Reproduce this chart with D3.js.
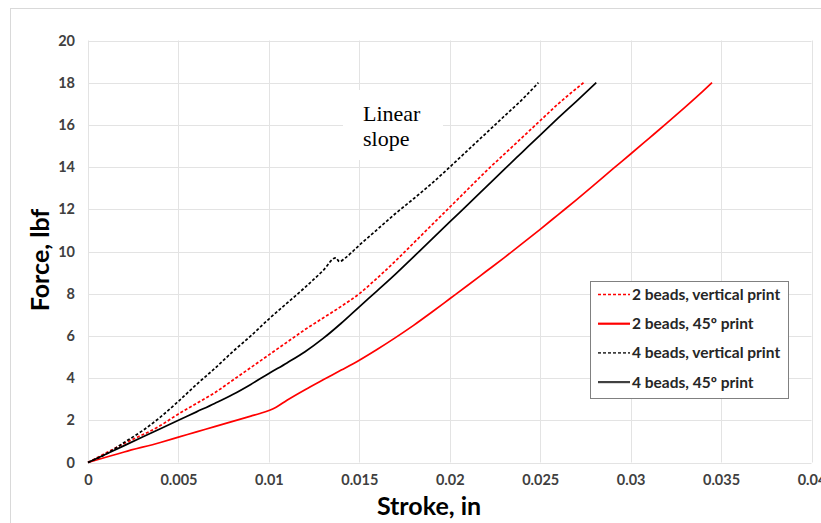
<!DOCTYPE html>
<html>
<head>
<meta charset="utf-8">
<script src="https://cdn.jsdelivr.net/npm/d3@7"></script>
<style>
  body { margin: 0; background: #fff; }
  svg { display: block; }
</style>
</head>
<body>
<div id="chart"></div>
<script>
// tick values
const xTicks = [0, 0.005, 0.01, 0.015, 0.02, 0.025, 0.03, 0.035, 0.04];
const yTicks = [0, 2, 4, 6, 8, 10, 12, 14, 16, 18, 20];

// series: [stroke (in), force (lbf)]
const twoBeadsVertical = [
  [0, 0], [0.002, 0.9], [0.004, 1.75], [0.005, 2.3], [0.006, 2.8], [0.007, 3.3],
  [0.008, 3.9], [0.009, 4.5], [0.010, 5.1], [0.011, 5.7], [0.012, 6.3], [0.013, 6.85],
  [0.014, 7.4], [0.015, 8.0], [0.016, 8.75], [0.017, 9.55], [0.018, 10.4], [0.019, 11.25],
  [0.020, 12.1], [0.021, 12.95], [0.022, 13.8], [0.023, 14.6], [0.024, 15.4],
  [0.025, 16.2], [0.026, 17.0], [0.0274, 18]
];
const twoBeads45 = [
  [0, 0], [0.002, 0.5], [0.004, 0.95], [0.005, 1.2], [0.006, 1.45], [0.007, 1.7],
  [0.008, 1.95], [0.009, 2.2], [0.0095, 2.32], [0.0104, 2.62], [0.011, 2.95], [0.012, 3.45],
  [0.013, 3.92], [0.014, 4.38], [0.015, 4.85], [0.016, 5.37], [0.017, 5.92], [0.018, 6.5],
  [0.019, 7.12], [0.020, 7.76], [0.021, 8.4], [0.022, 9.05], [0.023, 9.7], [0.024, 10.37],
  [0.025, 11.05], [0.026, 11.75], [0.027, 12.45], [0.028, 13.17], [0.029, 13.9],
  [0.030, 14.62], [0.031, 15.35], [0.032, 16.08], [0.033, 16.83], [0.034, 17.6], [0.0345, 18]
];
const fourBeadsVertical = [
  [0, 0], [0.001, 0.4], [0.002, 0.95], [0.003, 1.5], [0.004, 2.15], [0.005, 2.9],
  [0.006, 3.7], [0.007, 4.45], [0.008, 5.25], [0.009, 6.0], [0.010, 6.8], [0.011, 7.55],
  [0.012, 8.3], [0.013, 9.1], [0.0137, 9.7], [0.0139, 9.52], [0.0142, 9.68], [0.015, 10.3],
  [0.016, 11.05], [0.017, 11.8], [0.018, 12.5], [0.019, 13.22], [0.020, 14.0], [0.021, 14.8],
  [0.022, 15.6], [0.023, 16.4], [0.024, 17.2], [0.0249, 18]
];
const fourBeads45 = [
  [0, 0], [0.002, 0.8], [0.004, 1.6], [0.005, 2.0], [0.006, 2.4], [0.007, 2.8],
  [0.008, 3.22], [0.009, 3.7], [0.010, 4.22], [0.011, 4.72], [0.012, 5.25], [0.013, 5.88],
  [0.014, 6.6], [0.015, 7.38], [0.016, 8.15], [0.017, 8.93], [0.018, 9.75], [0.019, 10.57],
  [0.020, 11.4], [0.021, 12.22], [0.022, 13.05], [0.023, 13.88], [0.024, 14.7], [0.025, 15.52],
  [0.026, 16.33], [0.027, 17.12], [0.0281, 18]
];

const seriesNames = ["2 beads, vertical print", "2 beads, 45º print", "4 beads, vertical print", "4 beads, 45º print"];

const series = [
  { name: seriesNames[0], data: twoBeadsVertical, color: "#ff0000", dash: "3,2" },
  { name: seriesNames[1], data: twoBeads45, color: "#ff0000", dash: null },
  { name: seriesNames[2], data: fourBeadsVertical, color: "#000000", dash: "3,2" },
  { name: seriesNames[3], data: fourBeads45, color: "#000000", dash: null }
];

const width = 821;
const height = 523;
const margin = { top: 40.5, right: 10, bottom: 62.5, left: 88 };
const font = "Lato, 'Open Sans', sans-serif";

const svg = d3.select("#chart")
  .append("svg")
  .attr("width", width)
  .attr("height", height);

svg.append("rect")
  .attr("x", 10.5).attr("y", 8.5)
  .attr("width", 820).attr("height", 530)
  .attr("fill", "#fff")
  .attr("stroke", "#d9d9d9");

const x = d3.scaleLinear().domain([0, 0.04]).range([margin.left, 811.5]);
const y = d3.scaleLinear().domain([0, 20]).range([height - margin.bottom + 2, margin.top]);

// grid
svg.append("g")
  .selectAll("line.v")
  .data(xTicks)
  .join("line")
    .attr("x1", d => Math.round(x(d)) + 0.5)
    .attr("x2", d => Math.round(x(d)) + 0.5)
    .attr("y1", y(20))
    .attr("y2", y(0))
    .attr("stroke", "#e3e3e3");

svg.append("g")
  .selectAll("line.h")
  .data(yTicks)
  .join("line")
    .attr("x1", x(0))
    .attr("x2", x(0.04))
    .attr("y1", d => Math.round(y(d)) + 0.5)
    .attr("y2", d => Math.round(y(d)) + 0.5)
    .attr("stroke", "#e3e3e3");

// axes (labels only)
function xAxis(g) {
  g.attr("transform", `translate(0, ${y(0)})`)
   .call(d3.axisBottom(x).tickValues(xTicks).tickFormat(d => String(d)).tickSize(0).tickPadding(12));
  g.select(".domain").remove();
  g.selectAll("text")
   .attr("font-family", font).attr("font-weight", "bold")
   .attr("font-size", "14.5px").attr("fill", "#404040");
}

function yAxis(g) {
  g.attr("transform", `translate(${x(0)}, 0)`)
   .call(d3.axisLeft(y).tickValues(yTicks).tickSize(0).tickPadding(13));
  g.select(".domain").remove();
  g.selectAll("text")
   .attr("font-family", font).attr("font-weight", "bold")
   .attr("font-size", "14.5px").attr("fill", "#404040");
}

svg.append("g").call(xAxis);
svg.append("g").call(yAxis);

// annotation box
svg.append("rect")
  .attr("x", 343).attr("y", 90)
  .attr("width", 100).attr("height", 70)
  .attr("fill", "#fff");

const note = svg.append("text")
  .attr("font-family", "'Liberation Serif', 'DejaVu Serif', serif")
  .attr("font-size", "22px")
  .attr("fill", "#000");
note.append("tspan").attr("x", 363).attr("y", 121).text("Linear");
note.append("tspan").attr("x", 363).attr("y", 146).text("slope");

// curves
const line = d3.line()
  .x(d => x(d[0]))
  .y(d => y(d[1]))
  .curve(d3.curveMonotoneX);

svg.append("g")
  .selectAll("path")
  .data(series)
  .join("path")
    .attr("d", d => line(d.data))
    .attr("fill", "none")
    .attr("stroke", d => d.color)
    .attr("stroke-width", 1.7)
    .attr("stroke-dasharray", d => d.dash);

// legend
const legend = svg.append("g");
legend.append("rect")
  .attr("x", 590.5).attr("y", 281.5)
  .attr("width", 198).attr("height", 117)
  .attr("fill", "#fff")
  .attr("stroke", "#808080");

const item = legend.selectAll("g")
  .data(series)
  .join("g")
    .attr("transform", (d, i) => `translate(0, ${294.5 + i * 29.2})`);

item.append("line")
  .attr("x1", 598).attr("x2", 630)
  .attr("stroke", d => d.color === "#000000" ? "#404040" : d.color)
  .attr("stroke-width", d => d.dash ? 1.7 : 2.2)
  .attr("stroke-dasharray", d => d.dash);

item.append("text")
  .attr("x", 632).attr("y", 0).attr("dy", "0.35em")
  .attr("font-family", font).attr("font-weight", "bold")
  .attr("font-size", "15.5px").attr("fill", "#262626")
  .text(d => d.name);

// axis titles
svg.append("text")
  .attr("x", 429).attr("y", 515)
  .attr("text-anchor", "middle")
  .attr("font-family", font).attr("font-weight", "bold")
  .attr("font-size", "25px").attr("fill", "#000")
  .text("Stroke, in");

svg.append("text")
  .attr("transform", "translate(49, 260) rotate(-90)")
  .attr("text-anchor", "middle")
  .attr("font-family", font).attr("font-weight", "bold")
  .attr("font-size", "25px").attr("fill", "#000")
  .text("Force, lbf");
</script>
</body>
</html>
